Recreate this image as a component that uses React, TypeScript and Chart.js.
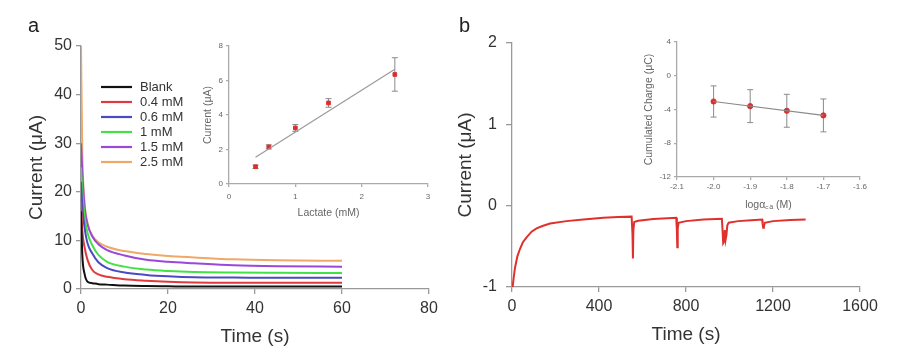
import React, { useEffect, useRef } from 'react';
import { Chart, registerables } from 'chart.js';
Chart.register(...registerables);

Chart.defaults.font.family = '"Liberation Sans", Arial, sans-serif';

// ---------- Panel a: chronoamperometry ----------
const timeA = [0, 0.3, 0.8, 1.5, 2.6, 4, 6, 10, 15, 20, 26, 35, 45, 60];
const seriesNamesA = ['Blank', '0.4 mM', '0.6 mM', '1 mM', '1.5 mM', '2.5 mM'];
const seriesColorsA = ['#111111', '#e0393e', '#4a4ac4', '#45e045', '#9a48d8', '#f0a868'];
const blankA = [16, 7, 3.2, 1.5, 1.2, 1.0, 0.9, 0.7, 0.6, 0.55, 0.5, 0.5, 0.5, 0.5];
const mM04A = [18, 12, 8.7, 6.0, 3.9, 3.0, 2.5, 2.0, 1.7, 1.5, 1.35, 1.3, 1.3, 1.3];
const mM06A = [22, 17, 12.8, 9.4, 7.3, 5.5, 4.3, 3.4, 2.9, 2.6, 2.4, 2.35, 2.3, 2.3];
const mM1A = [25, 20, 15, 11.5, 9.0, 7.0, 5.6, 4.6, 4.0, 3.7, 3.5, 3.4, 3.35, 3.3];
const mM15A = [30, 24, 17, 13.3, 10.8, 9.2, 8.0, 6.9, 6.0, 5.6, 5.3, 4.9, 4.7, 4.6];
const mM25A = [50, 28, 18, 13.6, 11, 9.6, 8.7, 7.8, 7.2, 6.8, 6.5, 6.1, 5.9, 5.8];
const seriesA = [blankA, mM04A, mM06A, mM1A, mM15A, mM25A];

// ---------- Inset a: calibration ----------
const lactate = [0.4, 0.6, 1.0, 1.5, 2.5];
const lactateCurrent = [1.0, 2.15, 3.25, 4.7, 6.35];
const lactateErr = [0.1, 0.12, 0.2, 0.25, 0.97];
const lactateFitX = [0.4, 2.5];
const lactateFitY = [1.55, 6.65];

// ---------- Panel b: current vs time ----------
const timeB = [3, 8, 14, 25, 37, 50, 67, 90, 113, 140, 175, 250, 328, 420, 488, 550,
  554, 556, 558, 562, 580, 650, 755,
  758, 760, 762, 766, 800, 880, 965,
  968, 971, 975, 978, 982, 986, 990, 996, 1040, 1100, 1150,
  1152, 1155, 1158, 1162, 1200, 1280, 1350];
const currentB = [-1.0, -0.88, -0.76, -0.62, -0.53, -0.45, -0.39, -0.32, -0.28, -0.25, -0.22, -0.19, -0.17, -0.15, -0.14, -0.135,
  -0.35, -0.65, -0.3, -0.2, -0.185, -0.165, -0.15,
  -0.3, -0.51, -0.28, -0.21, -0.19, -0.17, -0.16,
  -0.3, -0.46, -0.44, -0.3, -0.42, -0.36, -0.24, -0.21, -0.19, -0.18, -0.17,
  -0.22, -0.27, -0.26, -0.21, -0.19, -0.175, -0.17];

// ---------- Inset b: cumulated charge ----------
const logAlpha = [-2.0, -1.9, -1.8, -1.7];
const charge = [-3.05, -3.6, -4.15, -4.7];
const chargeErr = [1.85, 1.95, 1.95, 1.95];
const chargeFitX = [-2.0, -1.7];
const chargeFitY = [-3.05, -4.7];

const ticksA_x = [0, 20, 40, 60, 80];

const errorBarPlugin = {
  id: 'errorBars',
  beforeDatasetsDraw(chart: any) {
    const { ctx } = chart;
    chart.data.datasets.forEach((ds: any, i: number) => {
      if (!ds.errors) return;
      const xs = chart.scales.x;
      const ys = chart.scales.y;
      ctx.save();
      ctx.strokeStyle = '#8a8a8a';
      ctx.lineWidth = 1;
      ds.data.forEach((p: any, j: number) => {
        const e = ds.errors[j];
        const px = xs.getPixelForValue(p.x);
        const top = ys.getPixelForValue(p.y + e);
        const bot = ys.getPixelForValue(p.y - e);
        ctx.beginPath();
        ctx.moveTo(px, top); ctx.lineTo(px, bot);
        ctx.moveTo(px - 3, top); ctx.lineTo(px + 3, top);
        ctx.moveTo(px - 3, bot); ctx.lineTo(px + 3, bot);
        ctx.stroke();
      });
      ctx.restore();
    });
  },
};

const legendPlugin = {
  id: 'customLegend',
  afterDraw(chart: any) {
    const { ctx, chartArea } = chart;
    const x0 = chartArea.left + 20;
    const y0 = chartArea.top + 41;
    ctx.save();
    ctx.font = '13px "Liberation Sans", Arial, sans-serif';
    ctx.textBaseline = 'middle';
    chart.data.datasets.forEach((ds: any, i: number) => {
      const y = y0 + i * 15;
      ctx.strokeStyle = ds.borderColor;
      ctx.lineWidth = 2.2;
      ctx.beginPath();
      ctx.moveTo(x0, y); ctx.lineTo(x0 + 31, y);
      ctx.stroke();
      ctx.fillStyle = '#333';
      ctx.fillText(ds.label, x0 + 39, y + 0.5);
    });
    ctx.restore();
  },
};

function axis(opts: any) {
  const {
    min, max, step, width, height, tickLen, pad, fontSize, color, lineColor,
    title, titleSize, titlePad, afterBuildTicks, fmt, titleColor,
  } = opts;
  return {
    type: 'linear',
    min, max,
    afterFit: (s: any) => {
      if (width !== undefined) s.width = width;
      if (height !== undefined) s.height = height;
    },
    afterBuildTicks,
    border: { display: true, color: lineColor, width: 1.3 },
    grid: { display: true, drawOnChartArea: false, drawTicks: true, tickLength: tickLen, color: lineColor, tickColor: lineColor, lineWidth: 1.3 },
    ticks: { stepSize: step, padding: pad, font: { size: fontSize }, color, maxRotation: 0, autoSkip: false, callback: fmt },
    title: { display: true, text: title, font: { size: titleSize }, color: titleColor || color, padding: { top: titlePad, bottom: titlePad } },
  };
}

function cfgMainA(): any {
  return {
    type: 'line',
    data: {
      datasets: seriesA.map((s, i) => ({
        label: seriesNamesA[i],
        data: timeA.map((t, j) => ({ x: t, y: s[j] })),
        borderColor: seriesColorsA[i],
        borderWidth: 2,
        pointRadius: 0,
        cubicInterpolationMode: 'monotone',
        fill: false,
      })),
    },
    options: {
      animation: false, responsive: false,
      layout: { padding: { left: 0, top: 46, right: 31, bottom: 0 } },
      plugins: { legend: { display: false }, tooltip: { enabled: false } },
      scales: {
        x: axis({ min: 0, max: 80, step: 20, height: 68, tickLen: 5, pad: 5, fontSize: 16, color: '#333', lineColor: '#999', title: 'Time (s)', titleSize: 19, titlePad: 8.6 }),
        y: axis({ min: 0, max: 50, step: 10, width: 81, tickLen: 5, pad: 4, fontSize: 16, color: '#333', lineColor: '#999', title: 'Current (μA)', titleSize: 19, titlePad: 25.6 }),
      },
    },
    plugins: [legendPlugin],
  };
}

function cfgInsetA(): any {
  return {
    type: 'line',
    data: {
      datasets: [
        {
          label: 'fit',
          data: lactateFitX.map((x, i) => ({ x, y: lactateFitY[i] })),
          borderColor: '#9a9a9a', borderWidth: 1.2, pointRadius: 0, fill: false,
        },
        {
          label: 'data',
          data: lactate.map((x, i) => ({ x, y: lactateCurrent[i] })),
          errors: lactateErr,
          showLine: false,
          pointStyle: 'rect', pointRadius: 2.6,
          pointBackgroundColor: '#d8302e', pointBorderColor: '#d8302e',
        },
      ],
    },
    options: {
      animation: false, responsive: false,
      layout: { padding: { left: 0, top: 16, right: 12, bottom: 0 } },
      plugins: { legend: { display: false }, tooltip: { enabled: false } },
      scales: {
        x: axis({ min: 0, max: 3, step: 1, height: 46, tickLen: 3, pad: 5, fontSize: 8, color: '#666', lineColor: '#aaa', title: 'Lactate (mM)', titleSize: 10.5, titlePad: 11 }),
        y: axis({ min: 0, max: 8, step: 2, width: 49, tickLen: 3, pad: 3, fontSize: 8, color: '#666', lineColor: '#aaa', title: 'Current (μA)', titleSize: 10.5, titlePad: 21.7 }),
      },
    },
    plugins: [errorBarPlugin],
  };
}

function cfgMainB(): any {
  return {
    type: 'line',
    data: {
      datasets: [{
        label: 'current',
        data: timeB.map((t, i) => ({ x: t, y: currentB[i] })),
        borderColor: '#e0302c', borderWidth: 2, pointRadius: 0, fill: false, tension: 0,
      }],
    },
    options: {
      animation: false, responsive: false,
      layout: { padding: { left: 0, top: 43, right: 58, bottom: 0 } },
      plugins: { legend: { display: false }, tooltip: { enabled: false } },
      scales: {
        x: axis({ min: 0, max: 1600, step: 400, height: 70, tickLen: 5, pad: 5, fontSize: 16, color: '#333', lineColor: '#999', title: 'Time (s)', titleSize: 19, titlePad: 10.6 }),
        y: axis({ min: -1, max: 2, step: 1, width: 72, tickLen: 6, pad: 9, fontSize: 16, color: '#333', lineColor: '#999', title: 'Current (μA)', titleSize: 19, titlePad: 14.6 }),
      },
    },
  };
}

function cfgInsetB(): any {
  return {
    type: 'line',
    data: {
      datasets: [
        {
          label: 'fit',
          data: chargeFitX.map((x, i) => ({ x, y: chargeFitY[i] })),
          borderColor: '#8a8a8a', borderWidth: 1.2, pointRadius: 0, fill: false,
        },
        {
          label: 'data',
          data: logAlpha.map((x, i) => ({ x, y: charge[i] })),
          errors: chargeErr,
          showLine: false,
          pointStyle: 'circle', pointRadius: 2.6,
          pointBackgroundColor: '#d8302e', pointBorderColor: '#d8302e',
        },
      ],
    },
    options: {
      animation: false, responsive: false,
      layout: { padding: { left: 0, top: 17, right: 20, bottom: 0 } },
      plugins: { legend: { display: false }, tooltip: { enabled: false } },
      scales: {
        x: axis({ min: -2.1, max: -1.6, step: 0.1, height: 48, tickLen: 3, pad: 2, fontSize: 8, color: '#666', lineColor: '#aaa', title: 'logα꜀ₐ (M)', titleSize: 10.5, titlePad: 13.7, fmt: (v: number) => Number(v).toFixed(1) }),
        y: axis({ min: -12, max: 4, step: 4, width: 47, tickLen: 3, pad: 3, fontSize: 8, color: '#666', lineColor: '#aaa', title: 'Cumulated Charge (μC)', titleSize: 10.5, titlePad: 12.7 }),
      },
    },
    plugins: [errorBarPlugin],
  };
}

export default function App() {
  const rA = useRef<HTMLCanvasElement>(null);
  const rAi = useRef<HTMLCanvasElement>(null);
  const rB = useRef<HTMLCanvasElement>(null);
  const rBi = useRef<HTMLCanvasElement>(null);

  useEffect(() => {
    const charts = [
      new Chart(rA.current as any, cfgMainA()),
      new Chart(rAi.current as any, cfgInsetA()),
      new Chart(rB.current as any, cfgMainB()),
      new Chart(rBi.current as any, cfgInsetB()),
    ];
    return () => charts.forEach((c) => c.destroy());
  }, []);

  const abs = (l: number, t: number, w: number, h: number): React.CSSProperties => ({
    position: 'absolute', left: l, top: t, width: w, height: h,
  });
  const label: React.CSSProperties = {
    position: 'absolute', fontFamily: '"Liberation Sans", Arial, sans-serif', fontSize: 20,
    lineHeight: '20px', color: '#222',
  };

  return (
    <div style={{ position: 'absolute', left: 0, top: 0, width: 918, height: 357, background: '#fff', overflow: 'hidden' }}>
      <canvas ref={rA} width={460} height={357} style={abs(0, 0, 460, 357)} />
      <canvas ref={rB} width={478} height={357} style={abs(440, 0, 478, 357)} />
      <canvas ref={rAi} width={260} height={200} style={abs(180, 30, 260, 200)} />
      <canvas ref={rBi} width={250} height={200} style={abs(630, 25, 250, 200)} />
      <div style={{ ...label, left: 28, top: 15 }}>a</div>
      <div style={{ ...label, left: 459, top: 15 }}>b</div>
    </div>
  );
}
